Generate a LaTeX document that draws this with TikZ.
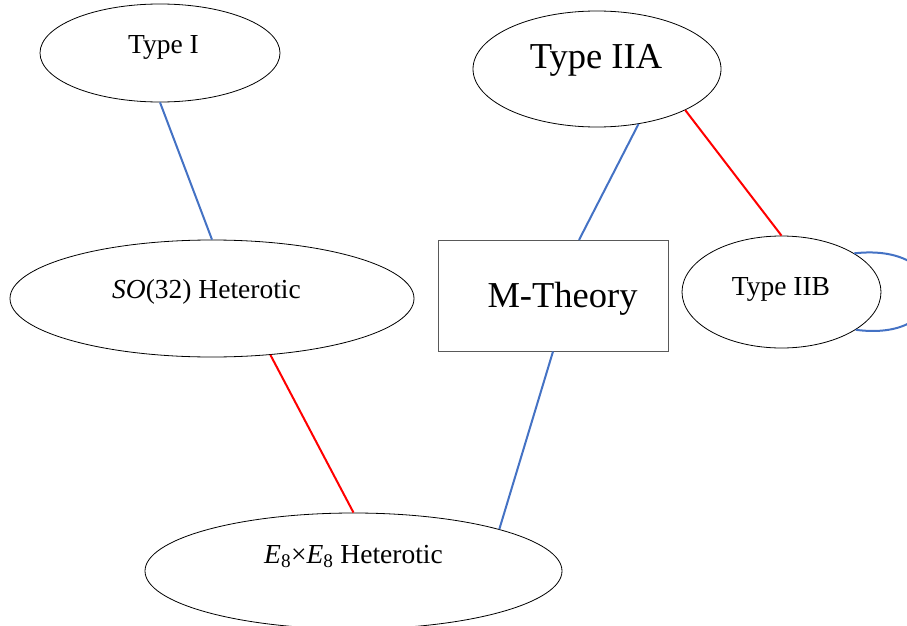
\documentclass[tikz,border=0pt]{standalone}
\usepackage{fontspec}
\setmainfont{Liberation Serif}
\usetikzlibrary{shapes.geometric}
\definecolor{lblue}{HTML}{4472C4}
\definecolor{lred}{HTML}{FF0000}
\begin{document}
\begin{tikzpicture}[x=1pt,y=-1pt,
  oval/.style={ellipse,draw=black,line width=0.8pt,inner sep=0pt},
  frame/.style={draw=black!65,line width=1pt,inner sep=0pt},
  bluelink/.style={draw=lblue,line width=2pt},
  redlink/.style={draw=lred,line width=2pt},
  smalltxt/.style={font=\fontsize{27.5}{30}\selectfont, inner sep=0pt, anchor=base},
  bigtxt/.style={font=\fontsize{36.5}{40}\selectfont, inner sep=0pt, anchor=base}]
\useasboundingbox (0,0) rectangle (907,626);

% shapes
\node[oval, minimum width=240, minimum height=98] (t1) at (160,53) {};
\node[oval, minimum width=248, minimum height=116] (t2a) at (597,69) {};
\node[oval, minimum width=404, minimum height=117] (so) at (212,298.5) {};
\node[frame, minimum width=230, minimum height=110.5] (mt) at (553,295.75) {};
\node[oval, minimum width=199, minimum height=112] (t2b) at (781.5,292) {};
\node[oval, minimum width=417, minimum height=116] (e8) at (353.5,571) {};

% texts
\node[smalltxt] (t1txt) at (163.5,53) {Type I};
\node[bigtxt] (t2atxt) at (596,68) {Type IIA};
\node[smalltxt] (sotxt) at (206.5,298) {\textit{SO}(32) Heterotic};
\node[bigtxt] (mttxt) at (562.5,307) {M-Theory};
\node[smalltxt] (t2btxt) at (781,295) {Type IIB};
\node[smalltxt] (e8txt) at (353.5,563) {\textit{E}\textsubscript{8}×\textit{E}\textsubscript{8} Heterotic};

% links
\draw[bluelink] (t1.south) -- (so.north);
\draw[bluelink] (t2a.-53.5) -- ([xshift=26pt]mt.north);
\draw[redlink] (t2a.-25) -- (t2b.north);
\draw[redlink] (so.-44) -- (e8.north);
\draw[bluelink] (mt.south) -- (e8.16);
\draw[bluelink] (t2b.28.4) .. controls (955,242) and (955,343) .. (t2b.-27.8);
\end{tikzpicture}
\end{document}
